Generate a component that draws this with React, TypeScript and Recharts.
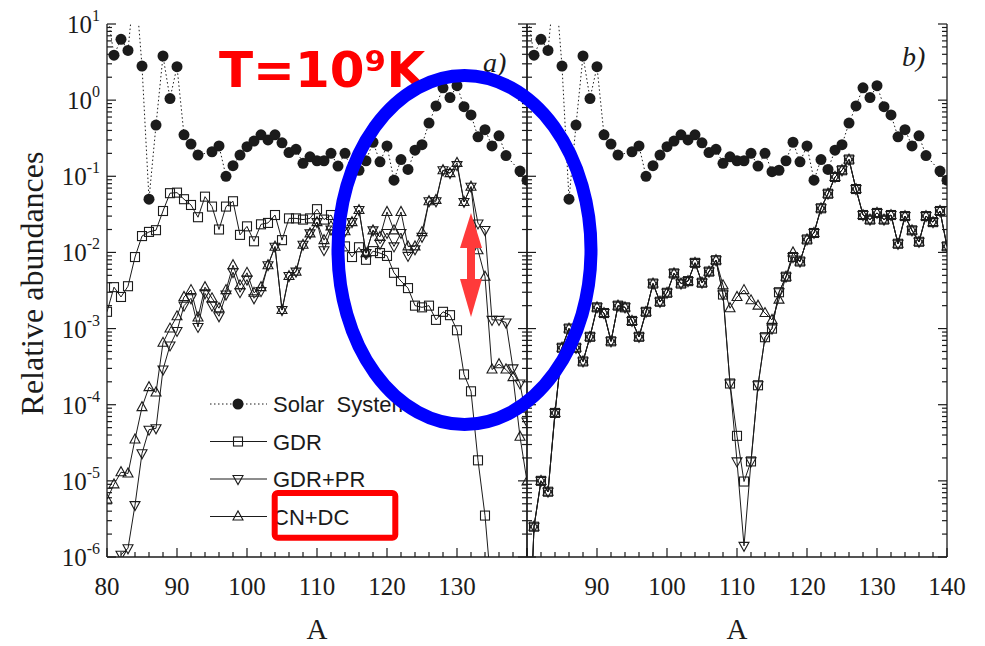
import React from 'react';
import { LineChart, Line, XAxis, YAxis, Legend } from 'recharts';

// mass number A, shared by both panels
const massNumbers = [
  80, 81, 82, 83, 84, 85, 86, 87, 88, 89,
  90, 91, 92, 93, 94, 95, 96, 97, 98, 99,
  100, 101, 102, 103, 104, 105, 106, 107, 108, 109,
  110, 111, 112, 113, 114, 115, 116, 117, 118, 119,
  120, 121, 122, 123, 124, 125, 126, 127, 128, 129,
  130, 131, 132, 133, 134, 135, 136, 137, 138, 139,
  140,
];

// solar system r-abundances (same in both panels)
const solarSystem = [
  15, 3.9, 6.3, 4.5, 40, 2.8, 0.05, 0.47, 3.8, 1.05,
  2.75, 0.35, 0.265, 0.19, null, 0.21, 0.25, 0.1, 0.138, 0.19,
  0.245, 0.29, 0.35, 0.3, 0.35, 0.275, 0.205, 0.226, 0.148, 0.18,
  0.16, 0.16, 0.2, 0.136, 0.2, 0.115, 0.12, 0.16, 0.28, 0.155,
  0.25, 0.089, 0.166, 0.123, 0.22, 0.26, 0.5, 0.84, 1.45, 1.08,
  1.55, 0.82, 0.64, 0.33, 0.41, 0.25, 0.34, 0.187, null, 0.117,
  0.089,
];

// panel a)
const gdrA = [
  1.66e-3, 3.5e-3, 2.6e-3, 3.6e-3, 8.7e-3, 0.0164, 0.0186, 0.0196, 0.035, 0.06,
  0.061, 0.05, 0.042, 0.029, 0.054, 0.04, 0.02, 0.04, 0.047, 0.017,
  0.022, 0.014, 0.0234, 0.0244, 0.031, 0.0145, 0.028, 0.028, 0.027, 0.028,
  0.037, 0.027, 0.031, 0.02, 0.012, 0.0087, 0.0117, 0.008, 0.0104, 0.0098,
  0.009, 0.0054, 0.0042, 0.0034, 0.002, 0.0019, 0.002, 0.0013, 0.00166, 0.0015,
  9.5e-4, 2.5e-4, 1.5e-4, 1.86e-5, 3.5e-6, 3e-7, null, null, null, null,
  null,
];
const gdrPrA = [
  null, null, 1.07e-6, 1.3e-6, 4.8e-6, 2.3e-5, 4.7e-5, 4.9e-5, 2.9e-4, 6e-4,
  9.3e-4, 2e-3, 2.5e-3, 1.05e-3, 2.9e-3, 2e-3, 1.45e-3, 2.8e-3, 5.5e-3, 3e-3,
  4.4e-3, 2.5e-3, 3.1e-3, 6.8e-3, 0.0119, 1.75e-3, 4.9e-3, 5.6e-3, 0.0126, 0.0178,
  0.025, 0.0107, 0.02, 0.016, 0.019, 0.025, 0.036, 0.0098, 0.0195, 0.013,
  0.018, 0.012, 0.018, 0.009, 0.011, 0.016, 0.047, 0.047, 0.12, 0.11,
  0.14, 0.046, 0.073, 0.024, 0.0197, 1.3e-3, 1.3e-3, 1.2e-3, 3e-4, 1.9e-4,
  6e-5,
];
const cnDcA = [
  5.7e-6, 9e-6, 1.3e-5, 1.25e-5, 3.5e-5, 9.3e-5, 1.7e-4, 1.45e-4, 6.5e-4, 1e-3,
  1.45e-3, 2.6e-3, 3.2e-3, 1.4e-3, 3.5e-3, 2.5e-3, 1.85e-3, 3.2e-3, 6.8e-3, 3.7e-3,
  5.4e-3, 2.95e-3, 3.5e-3, 6.8e-3, 0.0119, 1.75e-3, 4.9e-3, 5.6e-3, 0.0126, 0.0178,
  0.025, 0.0145, 0.022, 0.018, 0.019, 0.025, 0.036, 0.0098, 0.0195, 0.016,
  0.034, 0.0195, 0.034, 0.012, 0.012, 0.0185, 0.047, 0.049, 0.12, 0.11,
  0.15, 0.046, 0.073, 0.0107, 0.0048, 2.9e-4, 3.4e-4, 2.9e-4, 2.3e-4, 3.8e-5,
  9.8e-6,
];

// panel b)
const gdrB = [
  1e-8, 2.5e-6, 1e-5, 7.2e-6, 7.8e-5, 5.6e-4, 1e-3, 5.6e-4, 3.7e-4, 7.8e-4,
  1.9e-3, 1.6e-3, 6.8e-4, 2e-3, 1.9e-3, 1.26e-3, 7.8e-4, 1.66e-3, 3.9e-3, 2.25e-3,
  2.95e-3, 5.3e-3, 3.9e-3, 4.2e-3, 7.3e-3, 4e-3, 5.6e-3, 7.9e-3, 2.8e-3, 1.9e-4,
  3.9e-5, 9.8e-6, 1.8e-5, 1.8e-4, 7.7e-4, 1e-3, 3e-3, 4.8e-3, 8.7e-3, 7.6e-3,
  0.0148, 0.018, 0.038, 0.059, 0.098, 0.12, 0.166, 0.068, 0.031, 0.027,
  0.033, 0.027, 0.031, 0.013, 0.03, 0.0195, 0.0138, 0.03, 0.025, 0.035,
  0.012,
];
const gdrPrB = [
  1e-8, 2.5e-6, 1e-5, 7.2e-6, 7.8e-5, 5.6e-4, 1e-3, 5.6e-4, 3.7e-4, 7.8e-4,
  1.9e-3, 1.6e-3, 6.8e-4, 2e-3, 1.9e-3, 1.26e-3, 7.8e-4, 1.66e-3, 3.9e-3, 2.25e-3,
  2.95e-3, 5.3e-3, 3.9e-3, 4.2e-3, 7.3e-3, 4e-3, 5.6e-3, 7.9e-3, 2.8e-3, 1.9e-4,
  1.8e-5, 1.4e-6, 1.8e-5, 1.8e-4, 7.7e-4, 1e-3, 3e-3, 4.8e-3, 8.7e-3, 7.6e-3,
  0.0148, 0.018, 0.038, 0.059, 0.098, 0.12, 0.166, 0.068, 0.031, 0.027,
  0.033, 0.027, 0.031, 0.013, 0.03, 0.0195, 0.0138, 0.03, 0.025, 0.035,
  0.012,
];
const cnDcB = [
  1e-8, 2.5e-6, 1e-5, 7.2e-6, 7.8e-5, 5.6e-4, 1e-3, 5.6e-4, 3.7e-4, 7.8e-4,
  1.9e-3, 1.6e-3, 6.8e-4, 2e-3, 1.9e-3, 1.26e-3, 7.8e-4, 1.66e-3, 3.9e-3, 2.25e-3,
  2.95e-3, 5.3e-3, 3.9e-3, 4.2e-3, 7.3e-3, 4e-3, 5.6e-3, 7.9e-3, 3.7e-3, 1.85e-3,
  2.6e-3, 3.2e-3, 2.35e-3, 2e-3, 1.6e-3, 1.3e-3, 2.4e-3, 4.8e-3, 0.01, 7.6e-3,
  0.0148, 0.018, 0.038, 0.059, 0.098, 0.12, 0.166, 0.068, 0.031, 0.027,
  0.033, 0.027, 0.031, 0.013, 0.03, 0.0195, 0.0138, 0.03, 0.025, 0.035,
  0.012,
];

const xTicks = [80, 82, 84, 86, 88, 90, 92, 94, 96, 98, 100, 102, 104, 106, 108, 110,
  112, 114, 116, 118, 120, 122, 124, 126, 128, 130, 132, 134, 136, 138, 140];
const xLabelsA = [80, 90, 100, 110, 120, 130];
const xLabelsB = [90, 100, 110, 120, 130, 140];
const decades = [1e-6, 1e-5, 1e-4, 1e-3, 1e-2, 1e-1, 1, 10];
const yTicks = decades.flatMap((d, i) =>
  i === decades.length - 1 ? [d] : [1, 2, 3, 4, 5, 6, 7, 8, 9].map((m) => m * d)
);

const INK = '#1b1b1b';
const SERIF = '"Liberation Serif", "Times New Roman", serif';
const SANS = '"Liberation Sans", Arial, sans-serif';
const axisLine = { stroke: INK, strokeWidth: 1.3 };

type Kind = 'disc' | 'square' | 'down' | 'up';

const series: { key: string; name: string; kind: Kind; dash?: string }[] = [
  { key: 'solar', name: 'Solar  System', kind: 'disc', dash: '1.5 2.5' },
  { key: 'gdr', name: 'GDR', kind: 'square' },
  { key: 'gdrPr', name: 'GDR+PR', kind: 'down' },
  { key: 'cnDc', name: 'CN+DC', kind: 'up' },
];

const rowsA = massNumbers.map((A, i) => ({
  A, solar: solarSystem[i], gdr: gdrA[i], gdrPr: gdrPrA[i], cnDc: cnDcA[i],
}));
const rowsB = massNumbers.map((A, i) => ({
  A, solar: solarSystem[i], gdr: gdrB[i], gdrPr: gdrPrB[i], cnDc: cnDcB[i],
}));

function Marker({ kind, cx, cy }: { kind: Kind; cx: number; cy: number }) {
  if (kind === 'disc') return <circle cx={cx} cy={cy} r={5.5} fill={INK} />;
  if (kind === 'square')
    return <rect x={cx - 4.5} y={cy - 4.5} width={9} height={9} fill="none" stroke={INK} strokeWidth={1.1} />;
  const pts =
    kind === 'down'
      ? `${cx - 5},${cy - 3.5} ${cx + 5},${cy - 3.5} ${cx},${cy + 5.5}`
      : `${cx - 5},${cy + 3.5} ${cx + 5},${cy + 3.5} ${cx},${cy - 5.5}`;
  return <polygon points={pts} fill="none" stroke={INK} strokeWidth={1.1} />;
}

const dotOf = (kind: Kind) => (p: any) => {
  const key = `${kind}-${p.index}`;
  if (p.cx == null || p.cy == null) return <g key={key} />;
  return (
    <g key={key}>
      <Marker kind={kind} cx={p.cx} cy={p.cy} />
    </g>
  );
};

const isDecade = (v: number) => Math.abs(Math.log10(v) - Math.round(Math.log10(v))) < 1e-6;

const bottomTick = (labelled: number[]) => (p: any) => {
  const v = p.payload.value;
  const major = v % 10 === 0;
  return (
    <g>
      <line x1={p.x} x2={p.x} y1={p.y} y2={p.y - (major ? 9 : 5)} stroke={INK} strokeWidth={1.2} />
      {labelled.includes(v) && (
        <text x={p.x} y={p.y + 38} textAnchor="middle" fontFamily={SERIF} fontSize={25} fill={INK}>
          {v}
        </text>
      )}
    </g>
  );
};

const topTick = (p: any) => {
  const major = p.payload.value % 10 === 0;
  return <line x1={p.x} x2={p.x} y1={p.y} y2={p.y + (major ? 9 : 5)} stroke={INK} strokeWidth={1.2} />;
};

const leftTick = (withLabels: boolean) => (p: any) => {
  const v = p.payload.value;
  const major = isDecade(v);
  return (
    <g>
      <line x1={p.x} x2={p.x + (major ? 9 : 5)} y1={p.y} y2={p.y} stroke={INK} strokeWidth={1.2} />
      {withLabels && major && (
        <text x={p.x - 7} y={p.y + 9} textAnchor="end" fontFamily={SERIF} fontSize={25} fill={INK}>
          10
          <tspan dy={-12} fontSize={16}>
            {Math.round(Math.log10(v))}
          </tspan>
        </text>
      )}
    </g>
  );
};

const rightTick = (p: any) => {
  const major = isDecade(p.payload.value);
  return <line x1={p.x} x2={p.x - (major ? 9 : 5)} y1={p.y} y2={p.y} stroke={INK} strokeWidth={1.2} />;
};

const yLabel = (props: any) => {
  const vb = props.viewBox ?? { x: 0, y: 24, width: 107, height: 533 };
  const cy = vb.y + vb.height / 2 - 7;
  return (
    <text transform={`translate(43 ${cy}) rotate(-90)`} textAnchor="middle" fontFamily={SERIF} fontSize={32} fill={INK}>
      Relative abundances
    </text>
  );
};

const renderLegend = (props: any) => {
  const order = series.map((s) => s.key);
  const items = [...(props.payload ?? [])].sort(
    (a: any, b: any) => order.indexOf(a.dataKey) - order.indexOf(b.dataKey)
  );
  return (
    <svg width={260} height={150}>
      {items.map((entry: any, i: number) => {
        const s = series.find((d) => d.key === entry.dataKey) ?? series[i];
        const cy = 19 + i * 37.5;
        return (
          <g key={s.key}>
            <line x1={10} x2={67} y1={cy} y2={cy} stroke={INK} strokeWidth={1} strokeDasharray={s.dash} />
            <Marker kind={s.kind} cx={38} cy={cy} />
            <text x={73} y={cy + 8} fontFamily={SANS} fontSize={22} fill={INK} style={{ whiteSpace: 'pre' }}>
              {entry.value}
            </text>
          </g>
        );
      })}
    </svg>
  );
};

type PanelProps = {
  rows: typeof rowsA;
  left: number;
  width: number;
  leftWidth: number;
  rightWidth: number;
  labelled: number[];
  first: boolean;
};

function Panel({ rows, left, width, leftWidth, rightWidth, labelled, first }: PanelProps) {
  return (
    <div style={{ position: 'absolute', left, top: 0 }}>
      <LineChart width={width} height={646} data={rows} margin={{ top: 24, right: 0, bottom: 0, left: 0 }}>
        <XAxis
          dataKey="A"
          type="number"
          domain={[80, 140]}
          ticks={xTicks}
          interval={0}
          allowDataOverflow
          height={89}
          tickSize={0}
          tickMargin={0}
          tickLine={false}
          axisLine={axisLine}
          tick={bottomTick(labelled)}
          label={{ value: 'A', position: 'insideBottom', offset: 7, fontSize: 29, fontFamily: SERIF, fill: INK }}
        />
        <XAxis
          xAxisId="top"
          orientation="top"
          type="number"
          domain={[80, 140]}
          ticks={xTicks}
          interval={0}
          height={0}
          tickSize={0}
          tickMargin={0}
          tickLine={false}
          axisLine={axisLine}
          tick={topTick}
        />
        <YAxis
          type="number"
          scale="log"
          domain={[1e-6, 10]}
          allowDataOverflow
          ticks={yTicks}
          interval={0}
          width={leftWidth}
          tickSize={0}
          tickMargin={0}
          tickLine={false}
          axisLine={axisLine}
          tick={leftTick(first)}
          label={first ? yLabel : undefined}
        />
        <YAxis
          yAxisId="right"
          orientation="right"
          type="number"
          scale="log"
          domain={[1e-6, 10]}
          allowDataOverflow
          ticks={yTicks}
          interval={0}
          width={rightWidth}
          tickSize={0}
          tickMargin={0}
          tickLine={false}
          axisLine={axisLine}
          tick={rightTick}
        />
        {first && (
          <Legend
            layout="vertical"
            align="center"
            verticalAlign="middle"
            wrapperStyle={{ left: 200, top: 385, width: 260, height: 150 }}
            content={renderLegend}
          />
        )}
        {series.map((s) => (
          <Line
            key={s.key}
            dataKey={s.key}
            name={s.name}
            type="linear"
            stroke={INK}
            strokeWidth={1}
            strokeDasharray={s.dash}
            dot={dotOf(s.kind)}
            activeDot={false}
            connectNulls
            isAnimationActive={false}
          />
        ))}
      </LineChart>
    </div>
  );
}

export default function App() {
  return (
    <div style={{ position: 'absolute', left: 0, top: 0, width: 985, height: 646, background: '#fff' }}>
      <Panel rows={rowsA} left={0} width={540} leftWidth={107} rightWidth={13} labelled={xLabelsA} first />
      <Panel rows={rowsB} left={440} width={545} leftWidth={87} rightWidth={38} labelled={xLabelsB} first={false} />
      <svg width={985} height={646} style={{ position: 'absolute', left: 0, top: 0, pointerEvents: 'none' }}>
        <text x={483} y={72} fontFamily={SERIF} fontStyle="italic" fontSize={28} fill={INK}>a)</text>
        <text x={902} y={66} fontFamily={SERIF} fontStyle="italic" fontSize={28} fill={INK}>b)</text>
        <text x={219} y={87} fontFamily='"DejaVu Sans", sans-serif' fontWeight="bold" fontSize={50} fill="#ff0000">
          T=10⁹K
        </text>
        <ellipse cx={464.5} cy={250} rx={126.5} ry={174.5} fill="none" stroke="#0000ff" strokeWidth={13} />
        <line x1={471} x2={471} y1={240} y2={286} stroke="#ff3a3a" strokeWidth={8} />
        <polygon points="471,213 460,248 482,248" fill="#ff3a3a" />
        <polygon points="471,317 460,279 482,279" fill="#ff3a3a" />
        <rect x={274.7} y={493} width={120.6} height={44.7} rx={3} fill="none" stroke="#ff0000" strokeWidth={6} />
      </svg>
    </div>
  );
}
